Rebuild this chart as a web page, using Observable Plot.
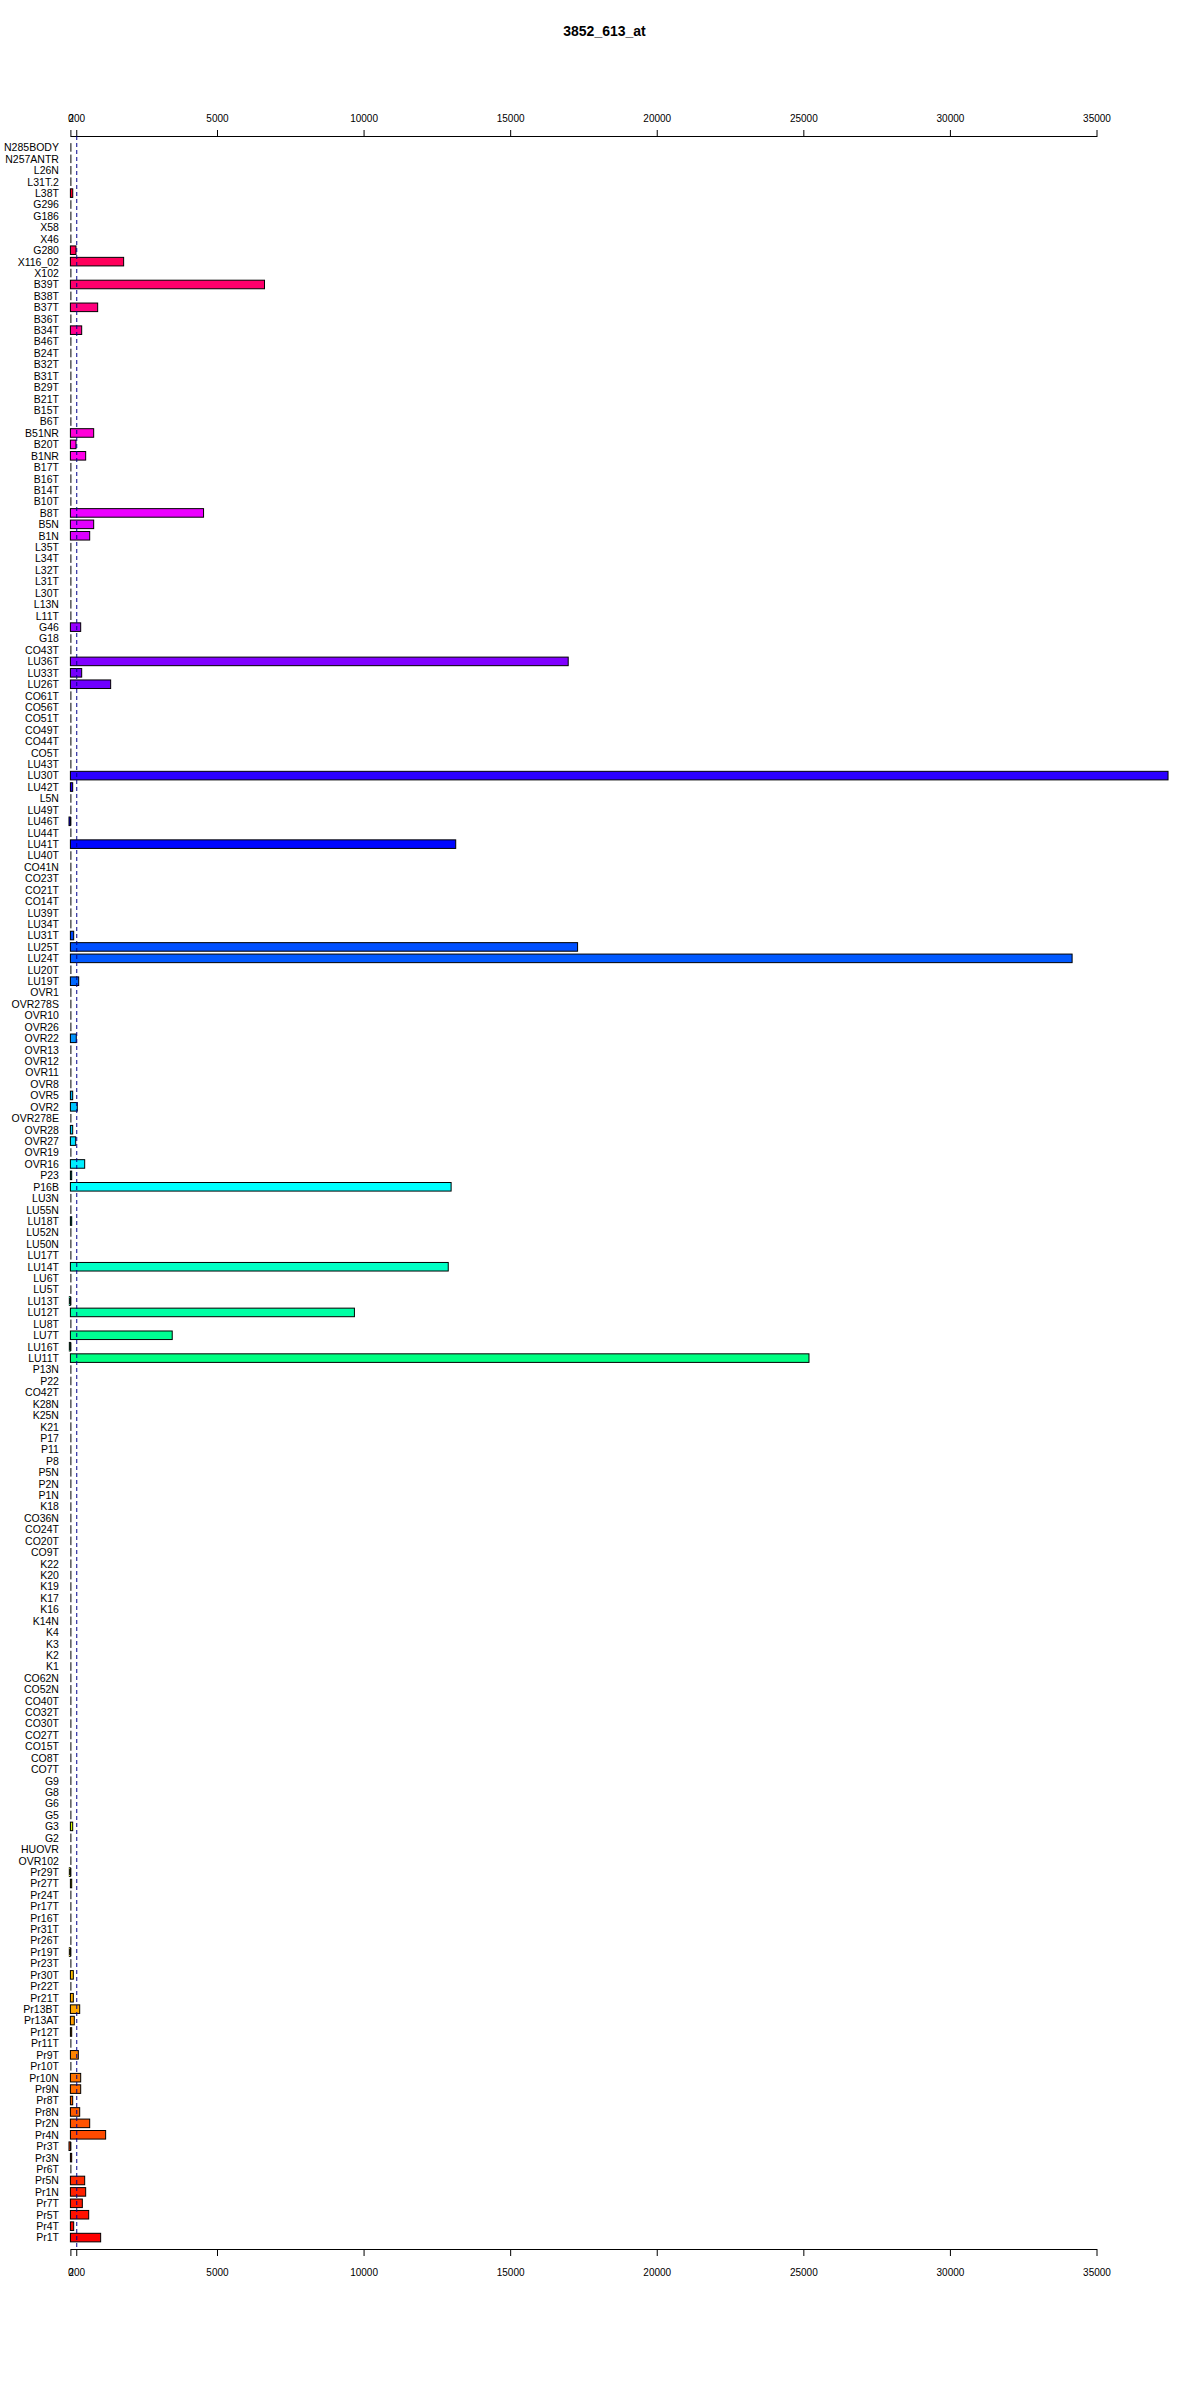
<!DOCTYPE html>
<html>
<head>
<meta charset="utf-8">
<script src="https://cdn.jsdelivr.net/npm/d3@7"></script>
<script src="https://cdn.jsdelivr.net/npm/@observablehq/plot@0.6"></script>
<style>
  html, body { margin: 0; padding: 0; background: #fff; }
  #wrap { position: relative; width: 1200px; height: 2400px; }
  #title { position: absolute; left: 0; top: 23px; width: 1209px; text-align: center;
           font: bold 14px "Liberation Sans", Arial, sans-serif; line-height: 16px; color: #000; z-index: 2; }
  #chart { position: absolute; left: 0; top: 0; }
</style>
</head>
<body>
<div id="wrap">
  <div id="title">3852_613_at</div>
  <div id="chart"></div>
</div>
<script>
const samples = [
  "N285BODY","N257ANTR","L26N","L31T.2","L38T","G296","G186","X58","X46","G280",
  "X116_02","X102","B39T","B38T","B37T","B36T","B34T","B46T","B24T","B32T",
  "B31T","B29T","B21T","B15T","B6T","B51NR","B20T","B1NR","B17T","B16T",
  "B14T","B10T","B8T","B5N","B1N","L35T","L34T","L32T","L31T","L30T",
  "L13N","L11T","G46","G18","CO43T","LU36T","LU33T","LU26T","CO61T","CO56T",
  "CO51T","CO49T","CO44T","CO5T","LU43T","LU30T","LU42T","L5N","LU49T","LU46T",
  "LU44T","LU41T","LU40T","CO41N","CO23T","CO21T","CO14T","LU39T","LU34T","LU31T",
  "LU25T","LU24T","LU20T","LU19T","OVR1","OVR278S","OVR10","OVR26","OVR22","OVR13",
  "OVR12","OVR11","OVR8","OVR5","OVR2","OVR278E","OVR28","OVR27","OVR19","OVR16",
  "P23","P16B","LU3N","LU55N","LU18T","LU52N","LU50N","LU17T","LU14T","LU6T",
  "LU5T","LU13T","LU12T","LU8T","LU7T","LU16T","LU11T","P13N","P22","CO42T",
  "K28N","K25N","K21","P17","P11","P8","P5N","P2N","P1N","K18",
  "CO36N","CO24T","CO20T","CO9T","K22","K20","K19","K17","K16","K14N",
  "K4","K3","K2","K1","CO62N","CO52N","CO40T","CO32T","CO30T","CO27T",
  "CO15T","CO8T","CO7T","G9","G8","G6","G5","G3","G2","HUOVR",
  "OVR102","Pr29T","Pr27T","Pr24T","Pr17T","Pr16T","Pr31T","Pr26T","Pr19T","Pr23T",
  "Pr30T","Pr22T","Pr21T","Pr13BT","Pr13AT","Pr12T","Pr11T","Pr9T","Pr10T","Pr10N",
  "Pr9N","Pr8T","Pr8N","Pr2N","Pr4N","Pr3T","Pr3N","Pr6T","Pr5N","Pr1N",
  "Pr7T","Pr5T","Pr4T","Pr1T"
];

const values = [
  0, 0, 0, 0, 80, 0, 0, 0, 0, 190,
  1816, 0, 6621, 0, 930, 0, 385, 0, 0, 0,
  0, 0, 0, 0, 0, 794, 190, 521, 0, 0,
  0, 0, 4542, 794, 658, 0, 0, 0, 0, 0,
  0, 0, 351, 0, 0, 16980, 385, 1373, 0, 0,
  0, 0, 0, 0, 0, 37440, 78, 0, 0, -48,
  0, 13143, 0, 0, 0, 0, 0, 0, 0, 112,
  17300, 34168, 0, 283, 0, 0, 0, 0, 200, 0,
  0, 0, 0, 78, 235, 0, 78, 180, 0, 487,
  44, 12986, 0, 0, 44, 0, 0, 0, 12888, 0,
  0, -36, 9688, 0, 3473, -36, 25193, 0, 0, 0,
  0, 0, 0, 0, 0, 0, 0, 0, 0, 0,
  0, 0, 0, 0, 0, 0, 0, 0, 0, 0,
  0, 0, 0, 0, 0, 0, 0, 0, 0, 0,
  0, 0, 0, 0, 0, 0, 0, 78, 0, 0,
  0, -36, 44, 0, 0, 0, 0, 0, -36, 0,
  100, 0, 100, 317, 133, 44, 0, 270, 0, 351,
  351, 78, 317, 658, 1202, -48, 44, 0, 487, 521,
  407, 624, 112, 1032
];

const xTicks = [0, 200, 5000, 10000, 15000, 20000, 25000, 30000, 35000];
const cutoff = [200];

const W = 1200, H = 2400;
const mL = 70.4, mR = 103.5, mT = 136, mB = 151;
const innerW = W - mL - mR, innerH = H - mT - mB;

const n = samples.length;
const rows = samples.map((s, i) => ({sample: s, value: values[i], idx: i}));
const rainbow = i => d3.hsl(360 * (n - 1 - i) / n, 1, 0.5).formatHex();

const chart = Plot.plot({
  width: W,
  height: H,
  marginTop: mT,
  marginBottom: mB,
  marginLeft: mL,
  marginRight: mR,
  x: {domain: [0, 35000]},
  y: {domain: samples, paddingInner: 0.25, paddingOuter: 0.625},
  style: {fontFamily: "'Liberation Sans', Arial, sans-serif", fontSize: "10px", background: "white", color: "black"},
  marks: [
    // top and bottom axis lines: frame stroke dashed so only horizontal edges show
    Plot.frame({stroke: "black", strokeWidth: 1.2, strokeDasharray: `${innerW},${innerH}`}),
    Plot.axisX({anchor: "top", ticks: xTicks, tickSize: 7, tickPadding: 8, tickFormat: d => String(d), label: null, stroke: "black", strokeWidth: 1, strokeOpacity: 1}),
    Plot.axisX({anchor: "bottom", ticks: xTicks, tickSize: 7, tickPadding: 12, tickFormat: d => String(d), label: null, stroke: "black", strokeWidth: 1, strokeOpacity: 1}),
    Plot.axisY({tickSize: 0, tickPadding: 12, label: null, fontSize: 10.5}),
    Plot.tickX(rows, {x: () => 0, y: "sample", stroke: "black", strokeWidth: 1}),
    Plot.barX(rows, {y: "sample", x1: () => 0, x2: "value", fill: d => rainbow(d.idx), stroke: "black", strokeWidth: 1}),
    Plot.ruleX(cutoff, {stroke: "#00008b", strokeWidth: 1, strokeDasharray: "4,3"})
  ]
});
document.getElementById("chart").appendChild(chart);
</script>
</body>
</html>
